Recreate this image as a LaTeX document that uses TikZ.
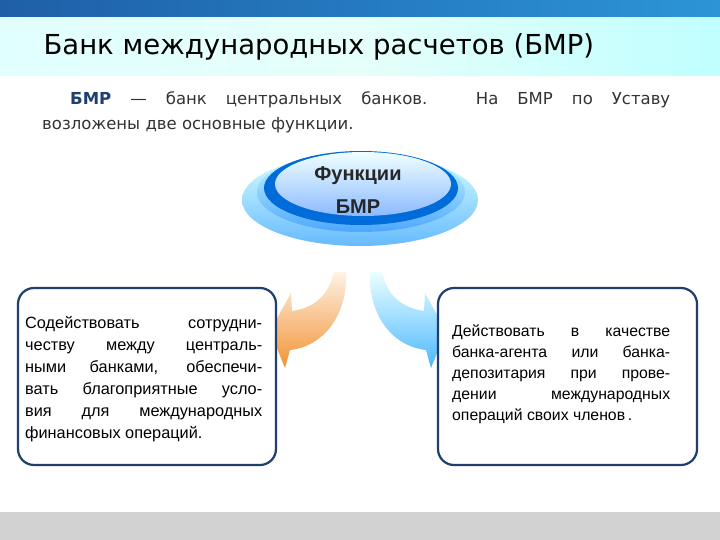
\documentclass[tikz,border=0pt]{standalone}
\usepackage{fontspec}
\setmainfont{Liberation Sans}
\newfontfamily\verd{DejaVu Sans}
\usetikzlibrary{shapes.geometric}
\definecolor{navy}{HTML}{1F3F6E}
\definecolor{topb}{HTML}{1E5FA8}
\definecolor{topc}{HTML}{2C95D6}
\definecolor{bodytx}{HTML}{333333}
\tikzset{
 fbox/.style={draw=navy,line width=2.2pt,rounded corners=16pt,fill=white},
 boxtext/.style={align=justify,inner sep=0pt,anchor=north west},
}
\begin{document}
\begin{tikzpicture}[x=1pt,y=-1pt]
\useasboundingbox (0,0) rectangle (720,540);
\fill[white] (0,0) rectangle (720,540);
\shade[left color=topb,right color=topc] (0,0) rectangle (720,18);
\shade[left color=cyan!12!white,right color=cyan!25!white,middle color=yellow!18!cyan!12!white] (0,18) rectangle (720,76);
\node[font=\verd\fontsize{27.5}{30}\selectfont,anchor=west,text=black] (title) at (40,47) {Банк международных расчетов (БМР)};
\fill[gray!35] (0,512) rectangle (720,540);
\node[font=\verd\fontsize{16.5}{25}\selectfont,text=bodytx,text width=628,align=justify,inner sep=0pt,anchor=north west] (intro) at (42,91)
 {\hspace*{28pt}\textbf{\textcolor{navy}{БМР}} — банк центральных банков. На БМР по Уставу\linebreak возложены две основные функции.};
% central disc
\shade[top color=cyan!15!white,bottom color=cyan!55!blue!60!white] (360,200) ellipse [x radius=118,y radius=46];
\shade[top color=cyan!20!white,bottom color=cyan!50!blue!70!white] (361,192) ellipse [x radius=104,y radius=40];
\fill[blue!50!cyan!85!black] (361,188) ellipse [x radius=97,y radius=37];
\shade[top color=cyan!6!white,bottom color=cyan!40!blue!45!white] (363,184) ellipse [x radius=88,y radius=32];
\node[font=\fontsize{20}{33}\selectfont\bfseries,align=center,text=black!85] (func) at (358,190) {Функции\\БМР};
% arrows
\shade[top color=orange!10!white,bottom color=orange!75!brown!85] (334,272) .. controls (328,298) and (312,308) .. (292,311) -- (291,293) -- (270,331) -- (285,368) -- (290,350) .. controls (326,346) and (348,312) .. (346,272) -- cycle;
\shade[top color=cyan!8!white,bottom color=cyan!60!blue!70!white] (382,272) .. controls (388,298) and (404,308) .. (424,311) -- (425,293) -- (446,331) -- (431,368) -- (426,350) .. controls (390,346) and (368,312) .. (370,272) -- cycle;
% boxes
\draw[fbox] (18,288) rectangle (276,465);
\draw[fbox] (438,288) rectangle (697,465);
\node[boxtext,font=\fontsize{16.3}{22}\selectfont,text width=237] (ltx) at (25,316) {Содействовать сотрудни-\linebreak честву между централь-\linebreak ными банками, обеспечи-\linebreak вать благоприятные усло-\linebreak вия для международных\linebreak финансовых операций.};
\node[boxtext,font=\fontsize{15.8}{21}\selectfont,text width=218] (rtx) at (452,325) {Действовать в качестве\linebreak банка-агента или банка-\linebreak депозитария при прове-\linebreak дении международных\linebreak операций своих членов\,.};
\end{tikzpicture}
\end{document}
